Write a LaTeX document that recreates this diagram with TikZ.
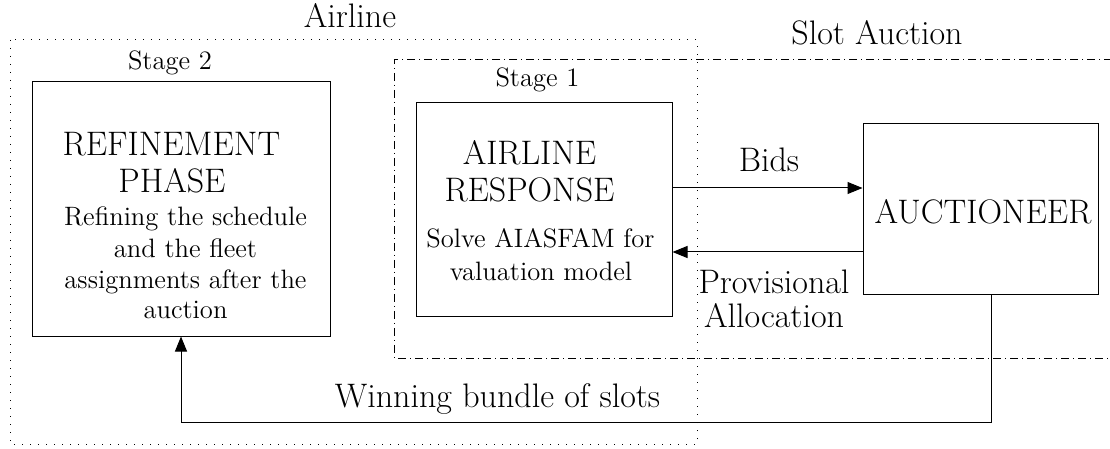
\documentclass[tikz,border=0pt]{standalone}
\usetikzlibrary{arrows.meta}
\begin{document}
\begin{tikzpicture}[x=0.5pt,y=-0.5pt,
  big/.style={font=\fontsize{17}{20.4}\selectfont, inner sep=0pt, anchor=base},
  small/.style={font=\fontsize{13.3}{16}\selectfont, inner sep=0pt, anchor=base},
  box/.style={draw, line width=0.5pt, inner sep=0pt},
  arr/.style={line width=0.5pt, -{Triangle[length=7.5pt,width=6pt]}},
  dotbox/.style={line width=0.5pt, dash pattern=on 0.5pt off 3.5pt},
  dashdotbox/.style={line width=0.5pt, dash pattern=on 4pt off 2pt on 0.5pt off 2pt}]
\useasboundingbox (0,0) rectangle (1110,449);
% group frames
\draw[dotbox] (10,40) rectangle (697,444);
\draw[dashdotbox] (1112,60) -- (394,60) -- (394,358) -- (1112,358);
\node[big] (airline) at (350,28) {Airline};
\node[big] (slot) at (877,45) {Slot Auction};
% boxes
\node[box, minimum width=149pt, minimum height=127pt] (box2) at (181,209) {};
\node[box, minimum width=128pt, minimum height=106.5pt] (box1) at (544,209.5) {};
\node[box, minimum width=117.5pt, minimum height=85.5pt] (auc) at (980.5,209.5) {};
\node[small] (st2) at (170,70) {Stage 2};
\node[small] (st1) at (537.5,87) {Stage 1};
% box 2 text
\node[big] (r1) at (171.5,156) {REFINEMENT};
\node[big] (r2) at (172,193) {PHASE};
\node[small] (r3) at (185.5,226) {Refining the schedule};
\node[small] (r4) at (185.5,257) {and the fleet};
\node[small] (r5) at (185.5,288) {assignments after the};
\node[small] (r6) at (185.5,319) {auction};
% box 1 text
\node[big] (a1) at (529.5,165) {AIRLINE};
\node[big] (a2) at (529.5,202) {RESPONSE};
\node[small] (a3) at (540.5,248) {Solve AIASFAM for};
\node[small] (a4) at (541,280) {valuation model};
% auctioneer text
\node[big] (a5) at (983,224) {AUCTIONEER};
% connectors
\coordinate (yb) at (0,188);
\coordinate (yp) at (0,252);
\coordinate (wr) at (991,422);
\coordinate (wl) at (181,422);
\draw[arr] (box1.east |- yb) -- (auc.west |- yb);
\draw[arr] (auc.west |- yp) -- (box1.east |- yp);
\draw[arr] (auc.south -| wr) -- (wr) -- (wl) -- (box2.south -| wl);
\node[big] (bids) at (769,172) {Bids};
\node[big] (prov1) at (774,293) {Provisional};
\node[big] (prov2) at (774,328) {Allocation};
\node[big] (win) at (497.5,408) {Winning bundle of slots};
\end{tikzpicture}
\end{document}
